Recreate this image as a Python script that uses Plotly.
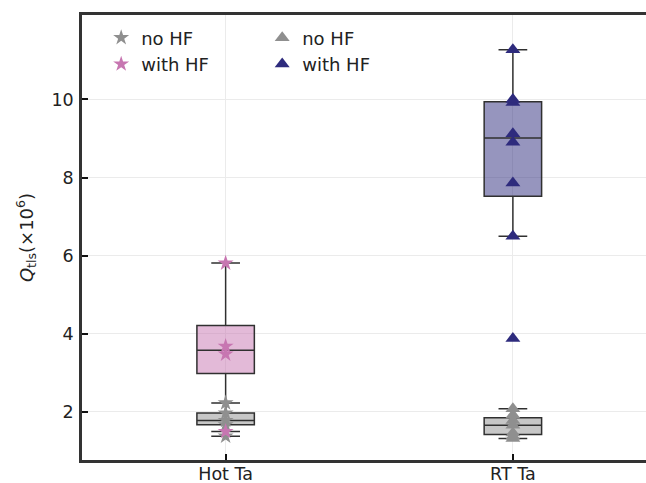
import numpy as np
import plotly.graph_objects as go

categories = ["Hot Ta", "RT Ta"]
positions = [1, 2]

hot_no_hf = [1.38, 1.67, 1.78, 1.97, 2.23]
hot_with_hf = [1.50, 3.48, 3.68, 5.81]
rt_no_hf = [1.32, 1.38, 1.46, 1.66, 1.78, 1.92, 2.08]
rt_with_hf = [3.88, 6.50, 7.86, 8.90, 9.12, 9.92, 10.00, 11.27]

C_GREY = "#8f8f8f"
C_PINK = "#c776b1"
C_NAVY = "#2e2b7d"
FILL = {C_GREY: "rgba(143,143,143,0.5)", C_PINK: "rgba(199,118,177,0.5)", C_NAVY: "rgba(46,43,125,0.5)"}

def stats(vals):
    v = np.sort(np.array(vals, dtype=float))
    q1, med, q3 = np.percentile(v, [25, 50, 75])
    iqr = q3 - q1
    lo = v[v >= q1 - 1.5 * iqr].min()
    hi = v[v <= q3 + 1.5 * iqr].max()
    return q1, med, q3, lo, hi

fig = go.Figure()

groups = [
    (positions[0], hot_with_hf, C_PINK),
    (positions[0], hot_no_hf, C_GREY),
    (positions[1], rt_with_hf, C_NAVY),
    (positions[1], rt_no_hf, C_GREY),
]
for pos, vals, col in groups:
    q1, med, q3, lo, hi = stats(vals)
    fig.add_trace(go.Box(
        x=[pos], q1=[q1], median=[med], q3=[q3], lowerfence=[lo], upperfence=[hi],
        width=0.2, whiskerwidth=0.5, fillcolor=FILL[col],
        line=dict(color="#303030", width=1.5), boxpoints=False,
        showlegend=False, hoverinfo="skip",
    ))

scat = [
    (positions[0], hot_no_hf, C_GREY, "star", 12, "no HF", "legend"),
    (positions[0], hot_with_hf, C_PINK, "star", 12, "with HF", "legend"),
    (positions[1], rt_no_hf, C_GREY, "triangle-up", 13, "no HF", "legend2"),
    (positions[1], rt_with_hf, C_NAVY, "triangle-up", 13, "with HF", "legend2"),
]
for pos, vals, col, sym, sz, name, leg in scat:
    fig.add_trace(go.Scatter(
        x=[pos] * len(vals), y=vals, mode="markers", name=name, legend=leg,
        marker=dict(symbol=sym, size=sz, color=col, line=dict(width=0)),
    ))

leg_common = dict(orientation="v", y=0.99, xanchor="left", yanchor="top",
                  bgcolor="rgba(0,0,0,0)", font=dict(size=18), traceorder="normal")
fig.update_layout(
    width=646, height=483,
    margin=dict(l=82, r=0, t=15, b=23, autoexpand=False),
    paper_bgcolor="white", plot_bgcolor="white",
    font=dict(family="DejaVu Sans", size=17.5, color="#222"),
    boxmode="overlay",
    showlegend=True,
    legend=dict(x=0.034, **leg_common),
    legend2=dict(x=0.3195, **leg_common),
)
fig.update_xaxes(
    range=[0.5, 2.4634], tickvals=positions, ticktext=categories, automargin=False,
    showline=True, mirror=True, linecolor="#333", linewidth=2.5,
    ticks="inside", ticklen=6, tickwidth=2, tickcolor="#111", ticklabelstandoff=-4,
    showgrid=True, gridcolor="#ebebeb", gridwidth=1.2, zeroline=False,
)
fig.update_yaxes(
    range=[0.77, 12.16], tickvals=[2, 4, 6, 8, 10], automargin=False,
    showline=True, mirror=False, linecolor="#333", linewidth=2.5,
    ticks="inside", ticklen=6, tickwidth=2, tickcolor="#111", ticklabelstandoff=2,
    showgrid=True, gridcolor="#ebebeb", gridwidth=1.2, zeroline=False,
    title=dict(text="<i>Q</i><sub>tls</sub>(×10<sup>6</sup>)", font=dict(size=18), standoff=14),
)

fig.write_html("out.html")
